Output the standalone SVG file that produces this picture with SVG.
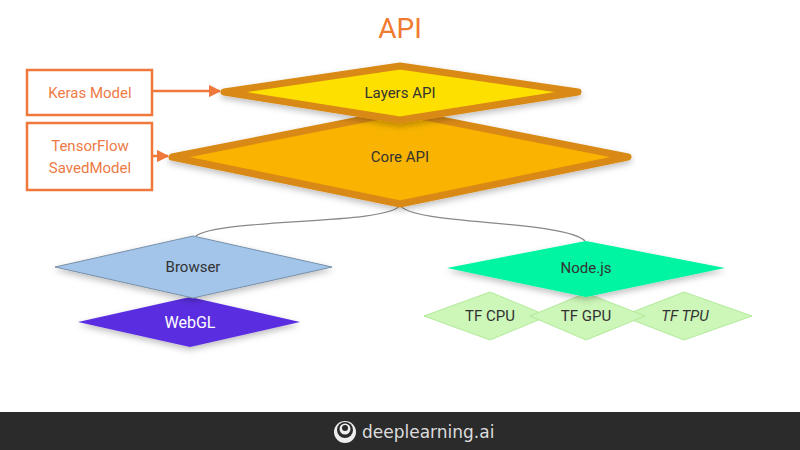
<svg xmlns="http://www.w3.org/2000/svg" width="800" height="450" viewBox="0 0 800 450">
<defs>
<style>
text{font-family:Roboto,"Liberation Sans",sans-serif;text-anchor:middle;dominant-baseline:central}
.box{fill:#fff;stroke:#f0783a;stroke-width:2.5}
.bt{fill:#ee7a45;font-size:15px}
.api{stroke:#d98a14;stroke-width:7;stroke-linejoin:round}
.lbl{font-size:15px;fill:#333}
.tf{fill:#cdf6b9;stroke:#b2ea9a;stroke-width:1}
.conn{fill:none;stroke:#888;stroke-width:1.2}
</style>
<marker id="ah" viewBox="0 0 10 10" refX="9" refY="5" markerWidth="5" markerHeight="5" orient="auto"><path d="M0,0L10,5L0,10z" fill="#f0783a"/></marker>
<filter id="sh" x="-10%" y="-20%" width="120%" height="150%"><feDropShadow dx="0" dy="3" stdDeviation="3" flood-opacity="0.25"/></filter>
</defs>
<rect width="800" height="450" fill="#fff"/>
<text x="400" y="28" font-size="28" fill="#f07a30">API</text>
<g id="connectors">
<path class="conn" d="M400,205 C390,225 220,218 196,236"/>
<path class="conn" d="M400,205 C410,225 565,220 585,241"/>
<line x1="152" y1="91" x2="220" y2="91" stroke="#f0783a" stroke-width="2.5" marker-end="url(#ah)"/>
<line x1="152" y1="156" x2="168" y2="156" stroke="#f0783a" stroke-width="2.5" marker-end="url(#ah)"/>
</g>
<g id="core"><polygon class="api" points="400,112 628,157 400,204 172,157" fill="#f8b400" stroke="#cf7420" filter="url(#sh)"/><text class="lbl" x="400" y="157" font-size="16">Core API</text></g>
<g id="layers"><polygon class="api" points="400,66 578,92 400,120 224,92" fill="#fde000" stroke="#dd9214" filter="url(#sh)"/><text class="lbl" x="400" y="93" font-size="16">Layers API</text></g>
<g id="keras"><rect class="box" x="27" y="70" width="125" height="45"/><text class="bt" x="90" y="93">Keras Model</text></g>
<g id="saved"><rect class="box" x="27" y="123" width="125" height="67"/><text class="bt" x="90" y="146">TensorFlow</text><text class="bt" x="90" y="168">SavedModel</text></g>
<g id="webgl"><polygon points="190,297 300,322 190,347 78,322" fill="#5a2ee0" filter="url(#sh)"/><text x="190" y="322" font-size="16" fill="#fff">WebGL</text></g>
<g id="browser"><polygon points="193,236 332,267 193,298 55,267" fill="#a3c5ea" stroke="#7890a8" stroke-width="1" filter="url(#sh)"/><text class="lbl" x="193" y="267" font-size="16">Browser</text></g>
<g id="tfcpu"><polygon class="tf" points="490,292 548,316 490,340 424,316"/><text class="lbl" x="490" y="316" font-size="14">TF CPU</text></g>
<g id="tftpu"><polygon class="tf" points="684,292 752,316 684,340 622,316"/><text class="lbl" x="685" y="316" font-size="14" font-style="italic">TF TPU</text></g>
<g id="tfgpu"><polygon class="tf" points="586,293 645,316 586,340 530,316"/><text class="lbl" x="586" y="316" font-size="14">TF GPU</text></g>
<g id="node"><polygon points="586,241 725,268 586,297 447,268" fill="#02f5a2" filter="url(#sh)"/><text class="lbl" x="586" y="268" font-size="14">Node.js</text></g>
<g id="footer">
<rect x="0" y="412" width="800" height="38" fill="#2b2b2b"/>
<circle cx="345" cy="432" r="11" fill="#eee"/>
<circle cx="345" cy="430" r="8" fill="#2b2b2b"/>
<circle cx="345" cy="429" r="5.5" fill="#eee"/>
<circle cx="345" cy="428" r="3" fill="#2b2b2b"/>
<text x="362" y="432" font-size="17" fill="#ddd" style="text-anchor:start;font-family:'DejaVu Sans',sans-serif">deeplearning.ai</text>
</g>
</svg>
